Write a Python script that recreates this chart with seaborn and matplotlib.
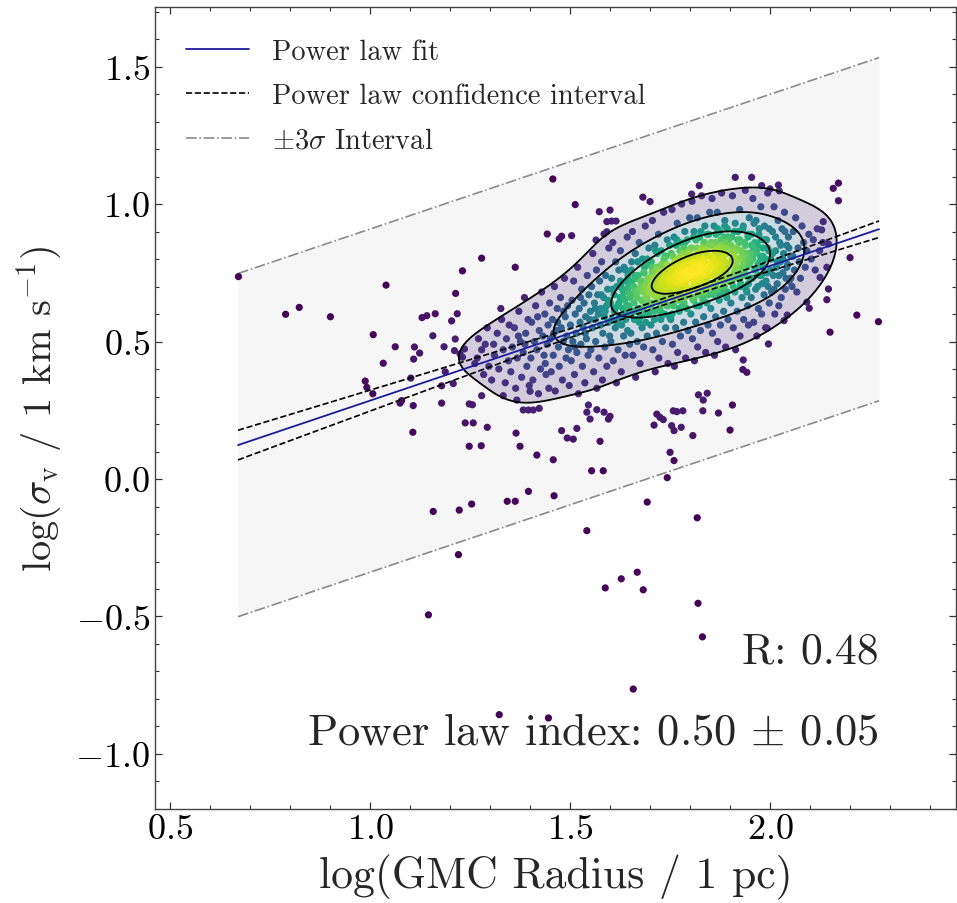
import numpy as np
import pandas as pd
import matplotlib
matplotlib.use("Agg")
import matplotlib.pyplot as plt
import seaborn as sns
from seaborn.external.kde import gaussian_kde

# GMCs lying outside the main KDE body (read point by point)
field_pts = [
    (0.671, 0.736), (1.040, 0.705), (1.231, 0.757), (0.789, 0.599), (0.823, 0.624), (0.901, 0.590),
    (1.214, 0.675), (1.218, 0.601), (1.130, 0.587), (1.142, 0.594), (1.163, 0.601), (1.204, 0.575),
    (1.008, 0.525), (1.157, 0.521), (1.213, 0.509), (1.063, 0.481), (1.111, 0.480), (1.124, 0.458),
    (1.109, 0.436), (1.185, 0.481), (1.211, 0.467), (1.225, 0.455), (1.231, 0.443), (1.236, 0.473),
    (1.033, 0.421), (1.188, 0.390), (1.102, 0.367), (0.988, 0.356), (0.992, 0.333), (1.007, 0.310),
    (1.179, 0.339), (1.208, 0.347), (1.075, 0.276), (1.079, 0.285), (1.108, 0.267), (1.179, 0.276),
    (1.248, 0.273), (1.256, 0.270), (1.238, 0.204), (1.258, 0.204), (1.107, 0.170), (1.248, 0.119),
    (1.254, -0.091), (1.158, -0.118), (1.223, -0.113), (1.221, -0.275), (1.146, -0.494),
    (1.279, 0.303), (1.333, 0.303), (1.367, 0.287), (1.400, 0.319), (1.383, 0.251), (1.396, 0.251),
    (1.408, 0.251), (1.423, 0.257), (1.293, 0.188), (1.365, 0.167), (1.479, 0.176), (1.517, 0.184),
    (1.493, 0.149), (1.508, 0.145), (1.575, 0.137), (1.278, 0.121), (1.375, 0.119), (1.417, 0.087),
    (1.458, 0.070), (1.554, 0.030), (1.583, 0.030), (1.546, 0.269), (1.542, 0.243), (1.567, 0.252),
    (1.550, 0.218), (1.585, 0.243), (1.600, 0.228), (1.596, 0.218), (1.717, 0.236), (1.725, 0.224),
    (1.733, 0.216), (1.710, 0.196), (1.758, 0.248), (1.767, 0.245), (1.782, 0.248), (1.754, 0.194),
    (1.760, 0.176), (1.778, 0.188), (1.750, 0.097), (1.760, 0.067), (1.743, 0.005), (1.396, -0.045),
    (1.460, -0.061), (1.343, -0.081), (1.363, -0.081), (1.693, -0.084), (1.818, -0.141),
    (1.542, -0.188), (1.588, -0.396), (1.628, -0.363), (1.668, -0.339), (1.683, -0.403),
    (1.820, -0.452), (1.831, -0.574), (1.658, -0.764), (1.323, -0.857), (1.446, -0.869),
    (2.150, 0.534), (1.996, 0.491), (1.933, 0.433), (1.932, 0.398), (1.942, 0.388), (1.821, 0.306),
    (1.843, 0.312), (1.833, 0.287), (1.906, 0.269), (1.832, 0.248), (1.871, 0.240), (1.807, 0.158),
    (1.900, 0.178), (1.913, 1.097), (1.954, 1.097), (1.823, 1.067), (1.804, 1.036), (1.979, 1.067),
    (2.000, 1.055), (2.021, 1.069), (2.023, 1.048), (2.158, 1.057), (2.171, 1.076), (2.171, 1.012),
    (2.133, 0.936), (2.129, 0.906), (2.146, 0.855), (2.200, 0.805), (2.142, 0.770), (2.125, 0.733),
    (2.146, 0.691), (2.142, 0.652), (2.092, 0.643), (2.098, 0.621), (2.217, 0.596), (2.271, 0.572),
    (2.043, 0.596), (2.035, 0.576), (1.993, 0.548), (1.946, 0.560), (1.457, 1.091), (1.513, 0.998),
    (1.682, 1.025), (1.700, 1.009), (1.573, 0.972), (1.600, 0.978), (1.592, 0.936), (1.604, 0.938),
    (1.615, 0.938), (1.443, 0.891), (1.473, 0.873), (1.479, 0.883), (1.504, 0.885), (1.565, 0.869),
    (1.585, 0.891), (1.592, 0.899), (1.279, 0.803), (1.363, 0.770),
]

# dense body of the distribution (estimated strip by strip in log R)
core_pts = [
    (1.262, 0.42), (1.271, 0.51), (1.284, 0.38), (1.279, 0.47), (1.293, 0.55), (1.268, 0.44), (1.297, 0.41), (1.288, 0.49),
    (1.304, 0.36), (1.311, 0.45), (1.318, 0.53), (1.322, 0.40), (1.329, 0.58), (1.333, 0.47), (1.338, 0.35), (1.341, 0.51),
    (1.346, 0.43), (1.309, 0.49), (1.327, 0.62), (1.348, 0.56),
    (1.352, 0.39), (1.356, 0.48), (1.361, 0.55), (1.364, 0.33), (1.368, 0.44), (1.372, 0.61), (1.376, 0.50), (1.379, 0.37),
    (1.383, 0.46), (1.386, 0.66), (1.389, 0.53), (1.392, 0.41), (1.395, 0.58), (1.398, 0.34), (1.371, 0.52), (1.387, 0.49),
    (1.402, 0.44), (1.404, 0.57), (1.407, 0.36), (1.411, 0.50), (1.414, 0.63), (1.417, 0.47), (1.421, 0.31), (1.423, 0.54),
    (1.426, 0.40), (1.429, 0.68), (1.432, 0.52), (1.435, 0.45), (1.437, 0.60), (1.440, 0.38), (1.443, 0.49), (1.445, 0.56),
    (1.447, 0.33), (1.449, 0.64), (1.419, 0.59), (1.438, 0.42),
    (1.451, 0.51), (1.453, 0.39), (1.456, 0.58), (1.458, 0.45), (1.461, 0.70), (1.463, 0.32), (1.466, 0.54), (1.468, 0.62),
    (1.471, 0.48), (1.473, 0.41), (1.476, 0.66), (1.478, 0.55), (1.481, 0.36), (1.483, 0.50), (1.486, 0.73), (1.488, 0.59),
    (1.490, 0.44), (1.492, 0.52), (1.494, 0.63), (1.496, 0.47), (1.498, 0.34), (1.469, 0.57), (1.484, 0.61), (1.459, 0.53),
    (1.501, 0.56), (1.503, 0.43), (1.505, 0.65), (1.507, 0.50), (1.509, 0.72), (1.511, 0.38), (1.513, 0.60), (1.515, 0.53),
    (1.517, 0.46), (1.519, 0.77), (1.521, 0.31), (1.523, 0.62), (1.525, 0.57), (1.527, 0.49), (1.529, 0.69), (1.531, 0.41),
    (1.533, 0.55), (1.535, 0.64), (1.537, 0.35), (1.539, 0.59), (1.541, 0.51), (1.543, 0.74), (1.545, 0.45), (1.547, 0.67),
    (1.549, 0.58), (1.512, 0.48), (1.526, 0.66), (1.538, 0.53),
    (1.551, 0.61), (1.552, 0.47), (1.554, 0.70), (1.556, 0.55), (1.557, 0.82), (1.559, 0.39), (1.561, 0.64), (1.562, 0.58),
    (1.564, 0.50), (1.566, 0.76), (1.567, 0.33), (1.569, 0.67), (1.571, 0.60), (1.572, 0.44), (1.574, 0.72), (1.576, 0.56),
    (1.577, 0.62), (1.579, 0.79), (1.581, 0.36), (1.582, 0.53), (1.584, 0.66), (1.586, 0.59), (1.587, 0.48), (1.589, 0.74),
    (1.591, 0.63), (1.592, 0.41), (1.594, 0.69), (1.596, 0.57), (1.597, 0.84), (1.599, 0.52), (1.563, 0.62), (1.578, 0.67),
    (1.588, 0.61), (1.595, 0.65),
    (1.601, 0.64), (1.602, 0.50), (1.604, 0.73), (1.605, 0.58), (1.607, 0.86), (1.608, 0.43), (1.610, 0.67), (1.611, 0.61),
    (1.613, 0.55), (1.614, 0.79), (1.616, 0.35), (1.617, 0.70), (1.619, 0.63), (1.620, 0.47), (1.622, 0.76), (1.623, 0.59),
    (1.625, 0.66), (1.626, 0.83), (1.628, 0.39), (1.629, 0.56), (1.631, 0.69), (1.632, 0.62), (1.634, 0.52), (1.635, 0.77),
    (1.637, 0.65), (1.638, 0.45), (1.640, 0.72), (1.641, 0.60), (1.643, 0.88), (1.644, 0.54), (1.646, 0.68), (1.647, 0.63),
    (1.649, 0.49), (1.606, 0.69), (1.618, 0.57), (1.627, 0.71), (1.633, 0.66), (1.639, 0.58), (1.645, 0.74), (1.612, 0.62),
    (1.651, 0.67), (1.652, 0.53), (1.653, 0.76), (1.655, 0.61), (1.656, 0.90), (1.657, 0.45), (1.659, 0.70), (1.660, 0.64),
    (1.661, 0.58), (1.663, 0.82), (1.664, 0.37), (1.665, 0.73), (1.667, 0.66), (1.668, 0.50), (1.669, 0.79), (1.671, 0.62),
    (1.672, 0.69), (1.673, 0.86), (1.675, 0.42), (1.676, 0.59), (1.677, 0.72), (1.679, 0.65), (1.680, 0.55), (1.681, 0.80),
    (1.683, 0.68), (1.684, 0.48), (1.685, 0.75), (1.687, 0.63), (1.688, 0.92), (1.689, 0.57), (1.691, 0.71), (1.692, 0.66),
    (1.693, 0.52), (1.695, 0.78), (1.696, 0.60), (1.697, 0.84), (1.699, 0.69), (1.654, 0.72), (1.662, 0.68), (1.670, 0.74),
    (1.678, 0.70), (1.686, 0.77), (1.694, 0.73), (1.698, 0.64), (1.666, 0.61), (1.682, 0.62),
    (1.701, 0.70), (1.702, 0.56), (1.703, 0.79), (1.704, 0.64), (1.706, 0.94), (1.707, 0.47), (1.708, 0.73), (1.709, 0.67),
    (1.710, 0.61), (1.712, 0.85), (1.713, 0.39), (1.714, 0.76), (1.715, 0.69), (1.716, 0.53), (1.718, 0.82), (1.719, 0.65),
    (1.720, 0.72), (1.721, 0.89), (1.722, 0.44), (1.724, 0.62), (1.725, 0.75), (1.726, 0.68), (1.727, 0.58), (1.728, 0.83),
    (1.730, 0.71), (1.731, 0.50), (1.732, 0.78), (1.733, 0.66), (1.734, 0.97), (1.736, 0.60), (1.737, 0.74), (1.738, 0.69),
    (1.739, 0.55), (1.740, 0.81), (1.742, 0.63), (1.743, 0.87), (1.744, 0.72), (1.745, 0.42), (1.746, 0.77), (1.748, 0.66),
    (1.749, 0.59), (1.705, 0.75), (1.711, 0.71), (1.717, 0.77), (1.723, 0.70), (1.729, 0.74), (1.735, 0.80), (1.741, 0.76),
    (1.747, 0.71), (1.713, 0.67), (1.727, 0.64), (1.739, 0.73),
    (1.751, 0.73), (1.752, 0.58), (1.753, 0.82), (1.754, 0.67), (1.755, 0.98), (1.756, 0.49), (1.757, 0.76), (1.758, 0.70),
    (1.759, 0.63), (1.760, 0.88), (1.761, 0.41), (1.762, 0.79), (1.763, 0.72), (1.764, 0.55), (1.765, 0.85), (1.766, 0.68),
    (1.767, 0.75), (1.768, 0.93), (1.769, 0.46), (1.770, 0.65), (1.771, 0.78), (1.772, 0.71), (1.773, 0.61), (1.774, 0.86),
    (1.775, 0.74), (1.776, 0.52), (1.777, 0.81), (1.778, 0.69), (1.779, 1.00), (1.781, 0.63), (1.782, 0.77), (1.783, 0.72),
    (1.784, 0.57), (1.785, 0.84), (1.786, 0.66), (1.787, 0.90), (1.788, 0.75), (1.789, 0.44), (1.790, 0.80), (1.791, 0.70),
    (1.792, 0.62), (1.793, 0.87), (1.794, 0.73), (1.795, 0.54), (1.796, 0.83), (1.797, 0.68), (1.798, 0.76), (1.799, 0.95),
    (1.758, 0.77), (1.764, 0.74), (1.770, 0.80), (1.776, 0.76), (1.782, 0.82), (1.788, 0.79), (1.794, 0.76), (1.780, 0.73),
    (1.801, 0.75), (1.802, 0.60), (1.803, 0.84), (1.804, 0.69), (1.805, 1.01), (1.806, 0.51), (1.807, 0.78), (1.808, 0.72),
    (1.809, 0.65), (1.810, 0.90), (1.811, 0.43), (1.812, 0.81), (1.813, 0.74), (1.814, 0.57), (1.815, 0.87), (1.816, 0.70),
    (1.817, 0.77), (1.818, 0.95), (1.819, 0.48), (1.820, 0.67), (1.821, 0.80), (1.822, 0.73), (1.823, 0.63), (1.824, 0.88),
    (1.825, 0.76), (1.826, 0.54), (1.827, 0.83), (1.828, 0.71), (1.829, 1.03), (1.831, 0.66), (1.832, 0.79), (1.833, 0.74),
    (1.834, 0.59), (1.835, 0.86), (1.836, 0.68), (1.837, 0.92), (1.838, 0.77), (1.839, 0.46), (1.840, 0.82), (1.841, 0.72),
    (1.842, 0.64), (1.843, 0.89), (1.844, 0.75), (1.845, 0.56), (1.846, 0.85), (1.847, 0.70), (1.848, 0.78), (1.849, 0.97),
    (1.806, 0.79), (1.812, 0.76), (1.818, 0.82), (1.824, 0.78), (1.830, 0.84), (1.836, 0.80), (1.842, 0.77), (1.828, 0.75),
    (1.851, 0.77), (1.852, 0.62), (1.853, 0.86), (1.854, 0.71), (1.855, 1.02), (1.856, 0.53), (1.857, 0.80), (1.858, 0.74),
    (1.859, 0.67), (1.860, 0.92), (1.861, 0.45), (1.862, 0.83), (1.863, 0.76), (1.864, 0.59), (1.865, 0.89), (1.866, 0.72),
    (1.867, 0.79), (1.868, 0.97), (1.869, 0.50), (1.870, 0.69), (1.871, 0.82), (1.872, 0.75), (1.873, 0.65), (1.874, 0.90),
    (1.875, 0.78), (1.876, 0.56), (1.877, 0.85), (1.878, 0.73), (1.879, 1.04), (1.881, 0.68), (1.882, 0.81), (1.883, 0.76),
    (1.884, 0.61), (1.885, 0.88), (1.886, 0.70), (1.887, 0.94), (1.888, 0.79), (1.889, 0.48), (1.890, 0.84), (1.891, 0.74),
    (1.892, 0.66), (1.893, 0.91), (1.894, 0.77), (1.895, 0.58), (1.896, 0.87), (1.897, 0.72), (1.856, 0.81), (1.864, 0.78),
    (1.872, 0.84), (1.880, 0.80), (1.888, 0.86), (1.876, 0.77),
    (1.901, 0.78), (1.902, 0.64), (1.904, 0.88), (1.905, 0.72), (1.906, 1.03), (1.908, 0.55), (1.909, 0.81), (1.910, 0.75),
    (1.912, 0.68), (1.913, 0.93), (1.914, 0.47), (1.916, 0.84), (1.917, 0.77), (1.918, 0.61), (1.920, 0.90), (1.921, 0.73),
    (1.922, 0.80), (1.924, 0.98), (1.925, 0.52), (1.926, 0.70), (1.928, 0.83), (1.929, 0.76), (1.930, 0.66), (1.932, 0.91),
    (1.933, 0.79), (1.934, 0.58), (1.936, 0.86), (1.937, 0.74), (1.938, 1.05), (1.940, 0.69), (1.941, 0.82), (1.942, 0.77),
    (1.944, 0.63), (1.945, 0.89), (1.946, 0.71), (1.948, 0.95), (1.949, 0.80), (1.907, 0.83), (1.915, 0.79), (1.923, 0.86),
    (1.931, 0.81), (1.939, 0.85), (1.947, 0.78), (1.927, 0.74),
    (1.951, 0.79), (1.953, 0.66), (1.954, 0.89), (1.956, 0.73), (1.957, 1.02), (1.959, 0.57), (1.961, 0.82), (1.962, 0.76),
    (1.964, 0.69), (1.965, 0.94), (1.967, 0.52), (1.968, 0.85), (1.970, 0.78), (1.971, 0.62), (1.973, 0.91), (1.974, 0.74),
    (1.976, 0.81), (1.977, 0.99), (1.979, 0.60), (1.980, 0.71), (1.982, 0.84), (1.983, 0.77), (1.985, 0.67), (1.986, 0.92),
    (1.988, 0.80), (1.989, 0.55), (1.991, 0.87), (1.992, 0.75), (1.994, 1.04), (1.995, 0.70), (1.997, 0.83), (1.998, 0.64),
    (1.958, 0.84), (1.978, 0.87),
    (2.002, 0.80), (2.004, 0.68), (2.006, 0.90), (2.008, 0.74), (2.010, 0.99), (2.012, 0.60), (2.014, 0.83), (2.016, 0.77),
    (2.018, 0.71), (2.020, 0.94), (2.022, 0.63), (2.024, 0.86), (2.026, 0.79), (2.028, 0.66), (2.030, 0.91), (2.032, 0.75),
    (2.034, 0.82), (2.036, 0.97), (2.038, 0.69), (2.040, 0.73), (2.042, 0.85), (2.044, 0.78), (2.046, 0.88), (2.048, 0.72),
    (2.052, 0.81), (2.055, 0.70), (2.058, 0.90), (2.061, 0.76), (2.064, 0.95), (2.067, 0.68), (2.070, 0.84), (2.073, 0.79),
    (2.076, 0.73), (2.080, 0.92), (2.084, 0.86), (2.088, 0.77), (2.092, 0.83), (2.097, 0.89),
    (2.103, 0.80), (2.108, 0.87), (2.113, 0.76), (2.118, 0.91), (2.124, 0.83), (2.132, 0.86),
]

# crowded green/yellow peak (log R ~ 1.62-2.06)
peak_pts = [
    (1.622, 0.64), (1.626, 0.72), (1.630, 0.59), (1.634, 0.68), (1.638, 0.76), (1.642, 0.63), (1.646, 0.70),
    (1.650, 0.66), (1.654, 0.79), (1.658, 0.61), (1.663, 0.74), (1.668, 0.68), (1.673, 0.57), (1.677, 0.72),
    (1.681, 0.65), (1.684, 0.75), (1.687, 0.70), (1.690, 0.60), (1.693, 0.80), (1.696, 0.68), (1.699, 0.73),
    (1.702, 0.63), (1.705, 0.77), (1.708, 0.71), (1.711, 0.58), (1.714, 0.83), (1.717, 0.66), (1.720, 0.74),
    (1.723, 0.69), (1.726, 0.61), (1.729, 0.78), (1.732, 0.72), (1.735, 0.64), (1.738, 0.81), (1.721, 0.76),
    (1.700, 0.69),
    (1.741, 0.70), (1.743, 0.78), (1.745, 0.63), (1.747, 0.74), (1.749, 0.85), (1.751, 0.68), (1.753, 0.76),
    (1.755, 0.60), (1.757, 0.81), (1.759, 0.72), (1.761, 0.66), (1.763, 0.79), (1.765, 0.74), (1.767, 0.87),
    (1.769, 0.69), (1.771, 0.77), (1.773, 0.62), (1.775, 0.83), (1.777, 0.73), (1.779, 0.67), (1.781, 0.80),
    (1.783, 0.75), (1.785, 0.64), (1.787, 0.86), (1.789, 0.71), (1.791, 0.78), (1.794, 0.69), (1.797, 0.82),
    (1.801, 0.74), (1.803, 0.81), (1.805, 0.66), (1.807, 0.77), (1.809, 0.88), (1.811, 0.71), (1.813, 0.79),
    (1.815, 0.63), (1.817, 0.84), (1.819, 0.75), (1.821, 0.69), (1.823, 0.82), (1.825, 0.77), (1.827, 0.90),
    (1.829, 0.72), (1.831, 0.80), (1.833, 0.65), (1.835, 0.86), (1.837, 0.76), (1.839, 0.70), (1.841, 0.83),
    (1.843, 0.78), (1.845, 0.67), (1.847, 0.89), (1.849, 0.74), (1.851, 0.81), (1.853, 0.71), (1.855, 0.85),
    (1.857, 0.77), (1.859, 0.68),
    (1.861, 0.79), (1.863, 0.86), (1.865, 0.70), (1.867, 0.82), (1.869, 0.91), (1.871, 0.74), (1.873, 0.80),
    (1.875, 0.67), (1.877, 0.87), (1.879, 0.77), (1.881, 0.72), (1.883, 0.84), (1.885, 0.79), (1.887, 0.92),
    (1.889, 0.75), (1.891, 0.82), (1.893, 0.68), (1.895, 0.88), (1.897, 0.78), (1.899, 0.73), (1.902, 0.85),
    (1.905, 0.80), (1.908, 0.70), (1.911, 0.90), (1.913, 0.76), (1.915, 0.83), (1.917, 0.74), (1.919, 0.87),
    (1.921, 0.80), (1.924, 0.87), (1.927, 0.71), (1.930, 0.83), (1.933, 0.92), (1.936, 0.75), (1.939, 0.81),
    (1.942, 0.68), (1.945, 0.88), (1.948, 0.78), (1.951, 0.73), (1.954, 0.85), (1.957, 0.80), (1.960, 0.93),
    (1.963, 0.76), (1.966, 0.83), (1.969, 0.70), (1.972, 0.89), (1.975, 0.79), (1.978, 0.74), (1.950, 0.82),
    (1.930, 0.77), (1.962, 0.86), (1.944, 0.79),
    (1.982, 0.81), (1.986, 0.87), (1.990, 0.72), (1.994, 0.84), (1.998, 0.91), (2.002, 0.76), (2.006, 0.82),
    (2.010, 0.69), (2.014, 0.88), (2.018, 0.79), (2.022, 0.74), (2.027, 0.85), (2.032, 0.80), (2.037, 0.90),
    (2.042, 0.77), (2.047, 0.84), (2.052, 0.73), (2.057, 0.81),
]

# power-law fit in log space
FIT_SLOPE = 0.49
FIT_INTERCEPT = -0.205
SLOPE_ERR = 0.05
CI_FLOOR = 0.012
CI_PIVOT = 1.72
THREE_SIGMA = 0.624
FIT_RANGE = (0.67, 2.2725)
R_VALUE = 0.48
INDEX_TXT = r"0.50 $\pm$ 0.05"
KDE_LEVELS = [0.22, 0.45, 0.68, 0.9]

sns.set_style("ticks")
plt.rcParams["font.family"] = "cmr10"
plt.rcParams["mathtext.fontset"] = "cm"
plt.rcParams["axes.formatter.use_mathtext"] = True
plt.rcParams["axes.unicode_minus"] = True

df = pd.DataFrame(field_pts + core_pts + peak_pts, columns=["logR", "logsig"])
xy = np.vstack([df["logR"], df["logsig"]])
df["dens"] = gaussian_kde(xy)(xy)
df = df.sort_values("dens")

fig, ax = plt.subplots(figsize=(9.57, 9.04), dpi=100)
fig.subplots_adjust(left=0.162, right=0.999, top=0.991, bottom=0.104)

xf = np.linspace(FIT_RANGE[0], FIT_RANGE[1], 200)
yf = FIT_SLOPE * xf + FIT_INTERCEPT
ci = np.sqrt(CI_FLOOR**2 + (SLOPE_ERR * (xf - CI_PIVOT))**2)

ax.fill_between(xf, yf - THREE_SIGMA, yf + THREE_SIGMA, color="#f6f6f6", lw=0, zorder=0.5)
ax.plot(xf, yf + THREE_SIGMA, color="#8a8a8a", ls="-.", lw=1.2, zorder=1, label=r"$\pm3\sigma$ Interval")
ax.plot(xf, yf - THREE_SIGMA, color="#8a8a8a", ls="-.", lw=1.2, zorder=1)

sns.kdeplot(data=df, x="logR", y="logsig", fill=True, levels=KDE_LEVELS + [1.0],
            cmap="viridis", alpha=0.2, ax=ax, zorder=1.5)
sns.scatterplot(data=df, x="logR", y="logsig", hue="dens", palette="viridis",
                s=27, linewidth=0, legend=False, ax=ax, zorder=2)
sns.kdeplot(data=df, x="logR", y="logsig", levels=KDE_LEVELS, color="black",
            linewidths=1.3, ax=ax, zorder=3)

ax.plot(xf, yf, color="#1c1c9a", lw=1.3, zorder=4, label="Power law fit")
ax.plot(xf, yf + ci, color="black", ls="--", lw=1.2, zorder=4, label="Power law confidence interval")
ax.plot(xf, yf - ci, color="black", ls="--", lw=1.2, zorder=4)

h, l = ax.get_legend_handles_labels()
order = [l.index("Power law fit"), l.index("Power law confidence interval"), l.index(r"$\pm3\sigma$ Interval")]
ax.legend([h[i] for i in order], [l[i] for i in order], loc="upper left", frameon=False,
          fontsize=20.5, handlelength=2.2, handletextpad=0.8, labelspacing=0.64,
          borderaxespad=0.7)

ax.text(0.903, 0.197, f"R: {R_VALUE:.2f}", transform=ax.transAxes, ha="right", va="center", fontsize=31.5)
ax.text(0.903, 0.096, "Power law index: " + INDEX_TXT, transform=ax.transAxes, ha="right",
        va="center", fontsize=32)

ax.set_xlim(0.4625, 2.465)
ax.set_ylim(-1.2, 1.716)
ax.set_xticks([0.5, 1.0, 1.5, 2.0])
ax.set_yticks([-1.0, -0.5, 0.0, 0.5, 1.0, 1.5])
ax.minorticks_on()
ax.tick_params(which="both", direction="in", top=True, right=True, colors="#333333")
ax.tick_params(which="major", length=5, width=0.9, labelsize=26, labelcolor="black")
ax.tick_params(which="minor", length=3, width=0.8)
for sp in ax.spines.values():
    sp.set_color("#444444")
    sp.set_linewidth(1.0)
ax.set_xlabel("log(GMC Radius / 1 pc)", fontsize=31.5, labelpad=6)
ax.set_ylabel(r"log($\sigma_{\rm v}$ / 1 km s$^{-1}$)", fontsize=29, labelpad=8)

fig.savefig("out.png", dpi=100)
